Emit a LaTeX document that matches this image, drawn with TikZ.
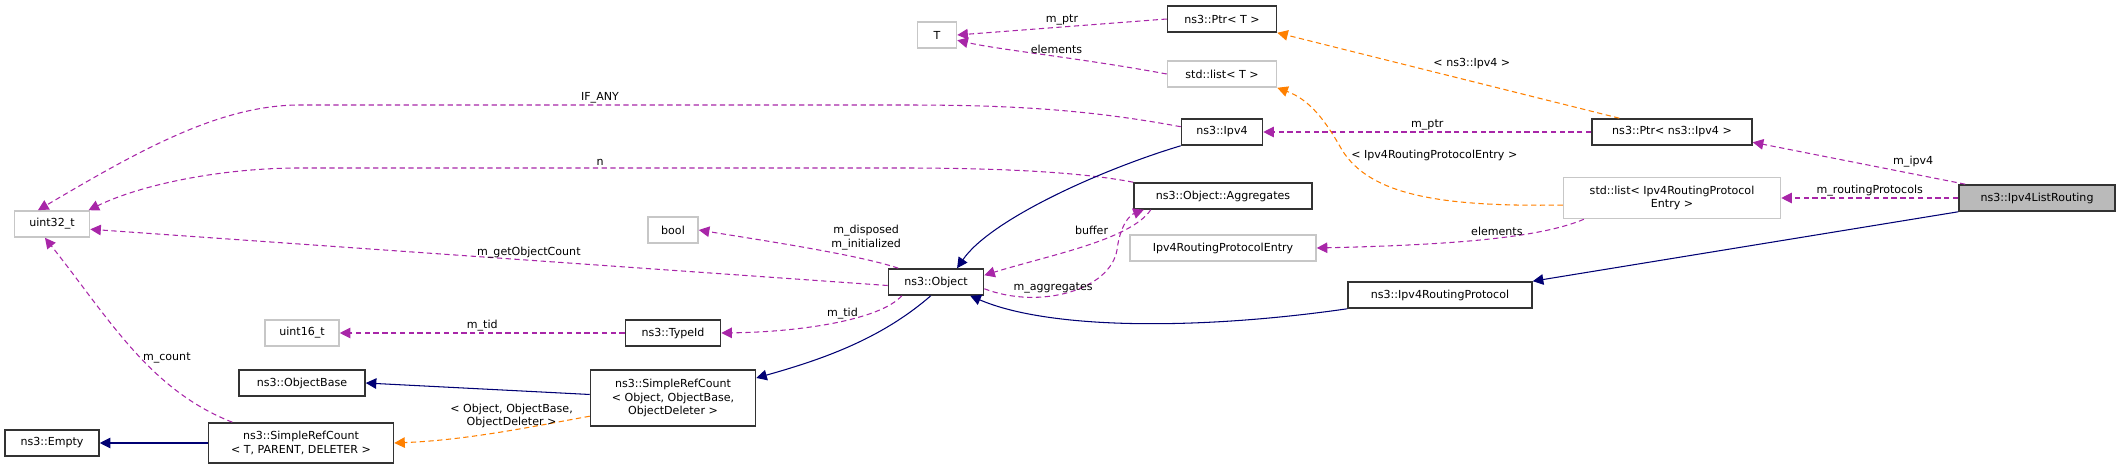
\documentclass[tikz,border=0pt]{standalone}
\usepackage{fontspec}
\setmainfont{DejaVu Sans}
\usetikzlibrary{arrows.meta}
\tikzset{
  box/.style={draw, font=\fontsize{6.3}{7.5}\selectfont, inner sep=1pt, minimum height=0.52cm, align=center},
  cls/.style={box, draw=black!80, line width=0.9pt},
  ext/.style={box, draw=black!22, line width=0.9pt},
  hl/.style={cls, fill=black!27},
  lbl/.style={font=\fontsize{6.3}{7.5}\selectfont, align=center, inner sep=1pt},
  use/.style={dash pattern=on 3pt off 2pt, semithick, draw=violet!80!magenta!85!white, -{Triangle[length=6pt,width=6pt]}},
  inh/.style={semithick, draw=blue!45!black, -{Triangle[length=6pt,width=6pt]}},
  tpl/.style={dash pattern=on 3pt off 2pt, semithick, draw=orange, -{Triangle[length=6pt,width=6pt]}}
}
\begin{document}
\begin{tikzpicture}[x=0.02cm, y=-0.02cm]
    \useasboundingbox (0,0) rectangle (2119,465);

    % Nodes
    \node[ext, minimum width=0.78cm] (t) at (937,35) {T};
    \node[cls, minimum width=2.18cm] (ptrt) at (1222,19) {ns3::Ptr< T >};
    \node[ext, minimum width=2.18cm] (listt) at (1222,74) {std::list< T >};
    \node[cls, minimum width=1.62cm] (ipv4) at (1222,132) {ns3::Ipv4};
    \node[cls, minimum width=3.2cm] (ptripv4) at (1672,132) {ns3::Ptr< ns3::Ipv4 >};
    \node[hl, minimum width=3.12cm] (lr) at (2037,198) {ns3::Ipv4ListRouting};
    \node[ext, minimum width=4.34cm, minimum height=0.82cm] (listentry) at (1672,198) {std::list< Ipv4RoutingProtocol\\Entry >};
    \node[cls, minimum width=3.56cm] (aggr) at (1223,196) {ns3::Object::Aggregates};
    \node[ext, minimum width=3.72cm] (entry) at (1223,248) {Ipv4RoutingProtocolEntry};
    \node[cls, minimum width=3.68cm] (rp) at (1440,295) {ns3::Ipv4RoutingProtocol};
    \node[cls, minimum width=1.9cm] (obj) at (936,282) {ns3::Object};
    \node[ext, minimum width=1.0cm] (bool) at (673,230) {bool};
    \node[ext, minimum width=1.5cm] (u32) at (52,224) {uint32\_t};
    \node[ext, minimum width=1.48cm] (u16) at (302,333) {uint16\_t};
    \node[cls, minimum width=1.9cm] (tid) at (673,333) {ns3::TypeId};
    \node[cls, minimum width=2.52cm] (objbase) at (302,383) {ns3::ObjectBase};
    \node[cls, minimum width=3.3cm, minimum height=1.12cm] (srcobj) at (673,398) {ns3::SimpleRefCount\\< Object, ObjectBase,\\ObjectDeleter >};
    \node[cls, minimum width=1.88cm] (empty) at (52,443) {ns3::Empty};
    \node[cls, minimum width=3.7cm, minimum height=0.8cm] (srct) at (301,443) {ns3::SimpleRefCount\\< T, PARENT, DELETER >};

    % Members
    \draw[use] (ptrt.west) -- node[lbl, above] {m\_ptr} (t.east);
    \draw[use] (listt.west) .. controls (1080,58) and (1000,50) .. node[lbl, above, pos=0.45] {elements} ([yshift=-3pt]t.east);
    \draw[use] ([yshift=3pt]ipv4.west) .. controls (1080,108) and (1000,105) .. (900,105) -- node[lbl, above] {IF\_ANY} (300,105) .. controls (220,105) and (140,150) .. ([xshift=-8pt]u32.north);
    \draw[use] (aggr.north west) .. controls (1080,172) and (1000,168) .. (900,168) -- node[lbl, above] {n} (300,168) .. controls (220,168) and (140,185) .. ([xshift=-1pt]u32.north east);
    \draw[use] ([yshift=-2pt]obj.west) -- node[lbl, above, pos=0.45] {m\_getObjectCount} ([yshift=-3pt]u32.east);
    \draw[use] ([xshift=6pt]obj.north west) .. controls (860,255) and (760,240) .. node[lbl, above right, pos=0.4] {m\_disposed\\m\_initialized} (bool.east);
    \draw[use] ([xshift=10pt]aggr.south west) .. controls (1130,240) and (1050,255) .. node[lbl, above left, pos=0.35] {buffer} ([yshift=-4pt]obj.north east);
    \draw[use] ([yshift=4pt]obj.south east) .. controls (1040,310) and (1110,290) .. node[lbl, above, pos=0.4] {m\_aggregates} (1117,250) .. controls (1120,225) and (1130,215) .. ([xshift=6pt]aggr.south west);
    \draw[use] ([xshift=8pt]obj.south west) .. controls (880,320) and (800,332) .. node[lbl, above, pos=0.45] {m\_tid} (tid.east);
    \draw[use] (tid.west) -- node[lbl, above] {m\_tid} (u16.east);
    \draw[use] ([xshift=14pt]srct.north west) .. controls (150,390) and (110,320) .. node[lbl, right, pos=0.45] {m\_count} ([xshift=-4pt]u32.south);
    \draw[use] (ptripv4.west) -- node[lbl, above] {m\_ptr} (ipv4.east);
    \draw[use] ([xshift=4pt]lr.north west) -- node[lbl, above right, pos=0.35] {m\_ipv4} ([yshift=2pt]ptripv4.south east);
    \draw[use] (lr.west) -- node[lbl, above] {m\_routingProtocols} (listentry.east);
    \draw[use] ([xshift=12pt]listentry.south west) .. controls (1540,238) and (1450,245) .. node[lbl, above, pos=0.45] {elements} (entry.east);

    % Templates
    \draw[tpl] ([xshift=-30pt]ptripv4.north) -- node[lbl, above right, pos=0.55] {< ns3::Ipv4 >} (ptrt.south east);
    \draw[tpl] ([yshift=-4pt]listentry.west) .. controls (1440,207) and (1370,195) .. (1342,150) node[lbl, anchor=west, xshift=4pt, yshift=-3pt] {< Ipv4RoutingProtocolEntry >} .. controls (1325,120) and (1310,100) .. (ptrt.south east |- listt.south);
    \draw[tpl] ([yshift=6pt]srcobj.south west) .. controls (540,425) and (470,440) .. node[lbl, above, pos=0.45] {< Object, ObjectBase,\\ObjectDeleter >} (srct.east);

    % Inheritance
    \draw[inh] (ipv4.south west) .. controls (1100,170) and (990,220) .. ([xshift=12pt]obj.north);
    \draw[inh] (lr.south west) -- (rp.north east);
    \draw[inh] (rp.south west) .. controls (1200,330) and (1050,330) .. ([xshift=-8pt]obj.south east);
    \draw[inh] ([xshift=-3pt]obj.south) .. controls (880,340) and (820,360) .. ([yshift=-5pt]srcobj.north east);
    \draw[inh] ([yshift=2pt]srcobj.west) -- (objbase.east);
    \draw[inh] (srct.west) -- (empty.east);
\end{tikzpicture}
\end{document}
